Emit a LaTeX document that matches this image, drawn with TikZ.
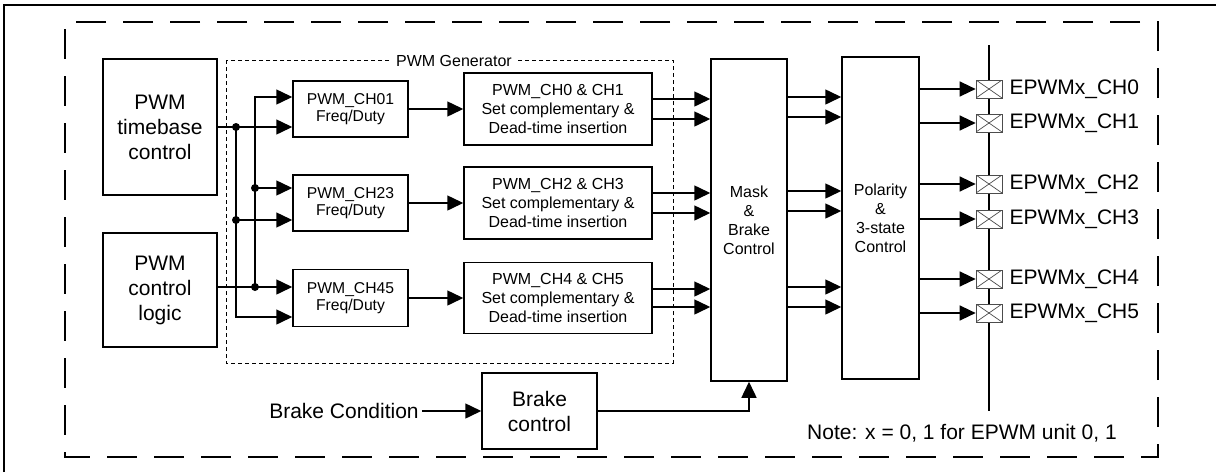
\documentclass[tikz,border=0pt]{standalone}
\usepackage{fontspec}
\setmainfont{Liberation Sans}
\usetikzlibrary{arrows.meta}
\begin{document}
\begin{tikzpicture}[x=1pt,y=-1pt,
  ln/.style={line width=1.5pt},
  arr/.style={ln,-{Triangle[length=16pt,width=15pt]}},
  box/.style={draw,line width=1.5pt,align=center,inner sep=0pt},
  big/.style={font=\fontsize{21pt}{25pt}\selectfont},
  mid/.style={font=\fontsize{16pt}{19pt}\selectfont},
  sml/.style={font=\fontsize{15.7pt}{17pt}\selectfont},
  jdot/.style={circle,fill,inner sep=0pt,minimum size=8pt},
  pad/.style={draw=gray!60!black,line width=0.7pt,fill=white,minimum width=26pt,minimum height=18pt,inner sep=0pt,
    path picture={\draw[line width=0.7pt,gray!60!black] (path picture bounding box.north west) -- (path picture bounding box.south east) (path picture bounding box.south west) -- (path picture bounding box.north east);}},
  lbl/.style={big,anchor=west,inner sep=0pt}
]
\useasboundingbox (0,0) rectangle (1216,472);
% frames
\draw[line width=2pt] (4,472) -- (4,5) -- (1216,5);
\draw[line width=1.5pt,dash pattern=on 30pt off 17pt,dash phase=-7pt] (65,22) rectangle (1158,457);
% PWM generator group
\draw[line width=0.8pt,dash pattern=on 4pt off 3pt] (226,60) rectangle (673,363);
\node[fill=white,inner sep=4pt,mid] (gen) at (454,61) {PWM Generator};
% left boxes
\node[box,big,minimum width=114pt,minimum height=136pt] (tb) at (160,127) {PWM\\timebase\\control};
\node[box,big,minimum width=114pt,minimum height=114pt] (cl) at (160,290) {PWM\\control\\logic};
% freq/duty boxes
\node[box,sml,minimum width=115pt,minimum height=56pt] (f01) at (350.5,109) {PWM\_CH01\\Freq/Duty};
\node[box,sml,minimum width=115pt,minimum height=56pt] (f23) at (350.5,203) {PWM\_CH23\\Freq/Duty};
\node[box,sml,minimum width=115pt,minimum height=57pt] (f45) at (350.5,298) {PWM\_CH45\\Freq/Duty};
% dead-time boxes
\node[box,mid,minimum width=188pt,minimum height=72pt] (d01) at (558,109) {PWM\_CH0 \& CH1\\Set complementary \&\\Dead-time insertion};
\node[box,mid,minimum width=188pt,minimum height=72pt] (d23) at (558,203) {PWM\_CH2 \& CH3\\Set complementary \&\\Dead-time insertion};
\node[box,mid,minimum width=188pt,minimum height=71pt] (d45) at (558,298) {PWM\_CH4 \& CH5\\Set complementary \&\\Dead-time insertion};
% mask and polarity
\node[box,mid,minimum width=76pt,minimum height=322pt] (mask) at (749,220) {Mask\\\&\\Brake\\Control};
\node[box,mid,minimum width=77pt,minimum height=322pt] (pol) at (880.5,218) {Polarity\\\&\\3-state\\Control};
% brake
\node[box,big,minimum width=115pt,minimum height=76pt] (brk) at (539.5,411) {Brake\\control};
\node[big,inner sep=3pt] (bc) at (344,411) {Brake Condition};
\node[big,anchor=west,inner sep=0pt] (note) at (807,433) {Note: x = 0, 1 for EPWM unit 0, 1};
% junctions
\coordinate (a1) at (236,127);
\coordinate (a2) at (236,220);
\coordinate (a3) at (236,317);
\coordinate (b0) at (255,97);
\coordinate (b1) at (255,188);
\coordinate (b2) at (255,287);
\draw[arr] (tb.east) -- (f01.west |- a1);
\draw[arr] (a1) -- (a3) -- (f45.west |- a3);
\draw[arr] (a2) -- (f23.west |- a2);
\draw[arr] (cl.east |- b2) -- (f45.west |- b2);
\draw[arr] (b2) -- (b0) -- (f01.west |- b0);
\draw[arr] (b1) -- (f23.west |- b1);
\node[jdot] (ja1) at (a1) {};
\node[jdot] (ja2) at (a2) {};
\node[jdot] (jb1) at (b1) {};
\node[jdot] (jb2) at (b2) {};
% freq -> dead-time
\draw[arr] (f01) -- (d01);
\draw[arr] (f23) -- (d23);
\draw[arr] (f45) -- (d45);
% dead-time -> mask
\foreach \s/\y in {d01/99,d01/119,d23/193,d23/213,d45/289,d45/307}
  \draw[arr] (\s.east |- 0,\y) -- (mask.west |- 0,\y);
% mask -> polarity
\foreach \y in {97,117,191,211,287,307}
  \draw[arr] (mask.east |- 0,\y) -- (pol.west |- 0,\y);
% brake
\draw[arr] (bc.east) -- (brk.west |- bc.east);
\draw[arr] (brk.east) -- (mask.south |- brk.east) -- (mask.south);
% pads
\coordinate (bt) at (989,45);
\coordinate (bb) at (989,411);
\draw[line width=1.3pt] (bt) -- (bb);
\foreach \i/\y in {0/89,1/123,2/184,3/219,4/279,5/313}{
  \node[pad] (p\i) at (989,\y) {};
  \draw[arr] (pol.east |- p\i) -- (p\i.west);
  \node[lbl] (l\i) at ([xshift=7pt]p\i.east) {EPWMx\_CH\i};
}
\end{tikzpicture}
\end{document}
